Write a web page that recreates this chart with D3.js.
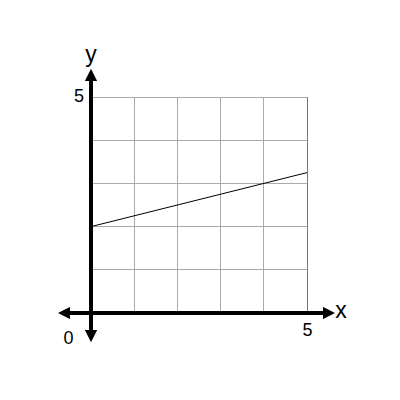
<!DOCTYPE html>
<html><head><meta charset="utf-8">
<script src="https://cdn.jsdelivr.net/npm/d3@7"></script>
<style>body{margin:0;background:#fff}svg{display:block}</style>
</head><body>
<script>
const xDomain = [0, 5];
const yDomain = [0, 5];
const gridTicks = [0, 1, 2, 3, 4, 5];
const lineX = [0, 5];
const lineY = [2, 3.25];
const axisLabels = ["x", "y"];
const tickLabels = ["0", "5"];

const W = 400, H = 400;
const svg = d3.select("body").append("svg").attr("width", W).attr("height", H);
const x = d3.scaleLinear().domain(xDomain).range([91, 307]);
const y = d3.scaleLinear().domain(yDomain).range([313, 97]);

const defs = svg.append("defs");
defs.append("marker").attr("id", "ah").attr("viewBox", "0 0 10 10")
  .attr("refX", 5).attr("refY", 5).attr("markerWidth", 3.1).attr("markerHeight", 3.1)
  .attr("markerUnits", "strokeWidth").attr("orient", "auto-start-reverse")
  .append("path").attr("d", "M0,0 L10,5 L0,10 Z").attr("fill", "#000");

const g = svg.append("g");
// grid
g.selectAll(".vg").data(gridTicks.slice(1)).join("line")
  .attr("x1", d => x(d)).attr("x2", d => x(d)).attr("y1", y(5)).attr("y2", y(0))
  .attr("stroke", d => d === 5 ? "#777" : "#aaa").attr("stroke-width", 1).attr("shape-rendering", "crispEdges");
g.selectAll(".hg").data(gridTicks.slice(1)).join("line")
  .attr("y1", d => y(d)).attr("y2", d => y(d)).attr("x1", x(0)).attr("x2", x(5))
  .attr("stroke", "#aaa").attr("stroke-width", 1).attr("shape-rendering", "crispEdges");

// data line
const pts = lineX.map((v, i) => [v, lineY[i]]);
g.append("path").datum(pts)
  .attr("d", d3.line().x(d => x(d[0])).y(d => y(d[1])))
  .attr("fill", "none").attr("stroke", "#000").attr("stroke-width", 1);

// axes (arrow tips: left 58, right 335, top 69, bottom 342)
g.append("line").attr("x1", 64).attr("x2", 329).attr("y1", y(0)).attr("y2", y(0))
  .attr("stroke", "#000").attr("stroke-width", 4)
  .attr("marker-start", "url(#ah)").attr("marker-end", "url(#ah)");
g.append("line").attr("x1", x(0)).attr("x2", x(0)).attr("y1", 336).attr("y2", 75)
  .attr("stroke", "#000").attr("stroke-width", 4)
  .attr("marker-start", "url(#ah)").attr("marker-end", "url(#ah)");

const font = "'Liberation Sans', Arial, sans-serif";
const t = (tx, ty, s, size, anchor) => svg.append("text").attr("x", tx).attr("y", ty)
  .attr("font-family", font).attr("font-size", size).attr("text-anchor", anchor || "middle").text(s);
t(341, 318, axisLabels[0], 23);
t(91, 62, axisLabels[1], 23);
t(68.5, 343.5, tickLabels[0], 18);
t(79, 101.5, tickLabels[1], 18);
t(x(5) + 0.5, 335.5, tickLabels[1], 18);
</script>
</body></html>
